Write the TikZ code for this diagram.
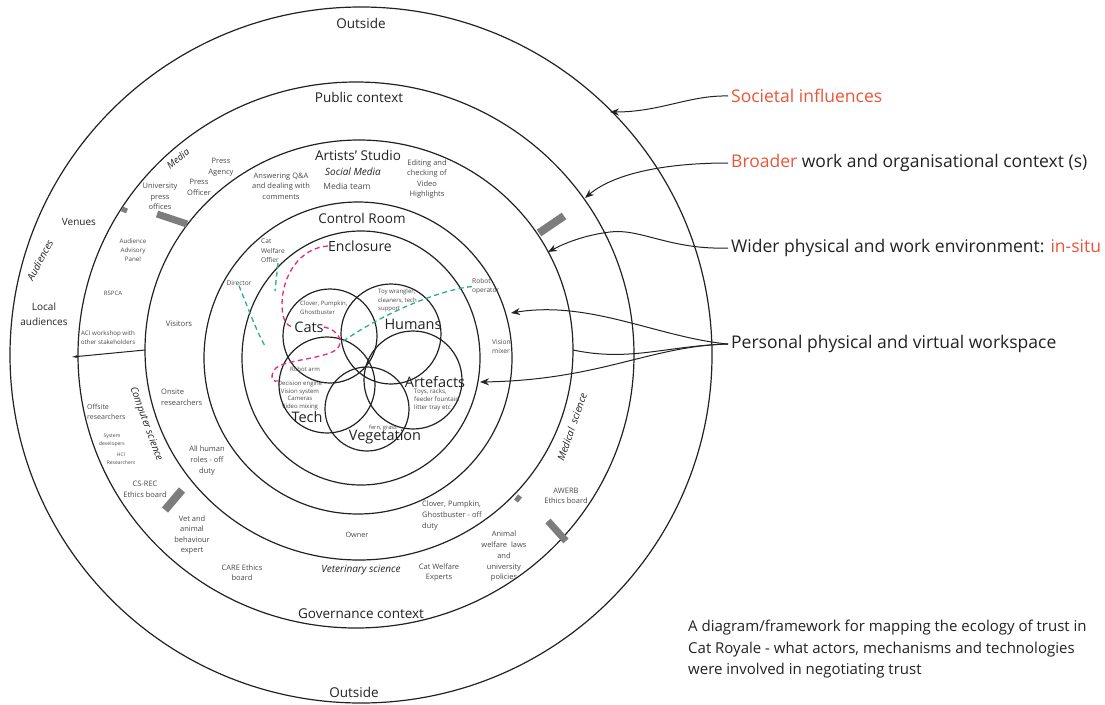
\documentclass[tikz,border=0pt]{standalone}
\usepackage{fontspec}
\setmainfont{Open Sans}
\usetikzlibrary{arrows.meta}
\definecolor{ink}{RGB}{34,34,34}
\definecolor{labelgray}{RGB}{72,72,72}
\definecolor{barGray}{RGB}{125,125,125}
\definecolor{accentred}{RGB}{235,85,55}
\definecolor{dashpink}{RGB}{230,40,130}
\definecolor{dashteal}{RGB}{40,175,145}

\begin{document}
\begin{tikzpicture}[x=1pt, y=1pt,
  ringline/.style={draw=ink, line width=1.2pt},
  venncircle/.style={draw=ink, line width=1.2pt},
  ringlbl/.style={font=\fontsize{13.5}{16}\selectfont, text=ink, inner sep=0pt},
  vennlbl/.style={font=\fontsize{14.5}{17}\selectfont, text=ink, inner sep=0pt},
  note/.style={font=\fontsize{7.5}{10.6}\selectfont, text=labelgray, align=center, inner sep=0pt},
  tinynote/.style={font=\fontsize{6.2}{8.8}\selectfont, text=labelgray, align=center, inner sep=0pt},
  micronote/.style={font=\fontsize{5}{7.6}\selectfont, text=labelgray, align=center, inner sep=0pt},
  fieldlbl/.style={font=\fontsize{10}{12}\selectfont\itshape, text=ink, inner sep=0pt},
  sidelbl/.style={font=\fontsize{17.5}{21}\selectfont, text=ink, anchor=west, inner sep=0pt},
  sidearrow/.style={-{Stealth[length=9pt,width=7pt]}, draw=ink, line width=1pt},
  graybar/.style={draw=barGray, line width=7pt},
  pinkdash/.style={draw=dashpink, line width=1.3pt, dash pattern=on 5pt off 3.5pt},
  tealdash/.style={draw=dashteal, line width=1.3pt, dash pattern=on 5pt off 3.5pt}]
  \useasboundingbox (0,0) rectangle (1105,-704);

  % Rings
  \draw[ringline] (361,-355) ellipse [x radius=351pt, y radius=348pt];
  \draw[ringline] (356,-355) ellipse [x radius=278pt, y radius=273pt];
  \draw[ringline] (359,-350) ellipse [x radius=214pt, y radius=210pt];
  \draw[ringline] (358,-358) ellipse [x radius=154pt, y radius=156pt];
  \draw[ringline] (361,-358) ellipse [x radius=119pt, y radius=127pt];

  % Venn circles
  \draw[venncircle] (330,-336) circle [radius=47pt];
  \draw[venncircle] (391,-334) circle [radius=50pt];
  \draw[venncircle] (413,-380) circle [radius=49pt];
  \draw[venncircle] (327,-385) circle [radius=48pt];
  \draw[venncircle] (367,-409) circle [radius=42pt];

  % Gray bars
  \draw[graybar] (157,-214) -- (187,-224);
  \draw[graybar, line width=5pt] (122,-209) -- (127,-211);
  \draw[graybar, line width=8pt] (539,-233) -- (564,-216);
  \draw[graybar, line width=8pt] (165,-510) -- (182,-490);
  \draw[graybar, line width=5pt] (516,-501) -- (520,-496);
  \draw[graybar] (548,-521) -- (566,-541);

  % Ring labels
  \node[ringlbl] (outtop) at (361,-23) {Outside};
  \node[ringlbl] (pubctx) at (359,-97) {Public context};
  \node[ringlbl] (studio) at (358,-155) {Artists' Studio};
  \node[ringlbl] (ctrlroom) at (362,-218) {Control Room};
  \node[vennlbl, font=\fontsize{14}{17}\selectfont] (enclosure) at (360,-246) {Enclosure};
  \node[ringlbl] (govctx) at (361,-614) {Governance context};
  \node[ringlbl] (outbot) at (354,-692) {Outside};

  % Venn labels
  \node[vennlbl] (cats) at (309,-327) {Cats};
  \node[vennlbl] (humans) at (413,-324) {Humans};
  \node[vennlbl] (artefacts) at (435,-382) {Artefacts};
  \node[vennlbl] (tech) at (307,-417) {Tech};
  \node[vennlbl] (vegetation) at (385,-437) {Vegetation};
  \node[tinynote, font=\fontsize{6}{9}\selectfont, align=left, anchor=west] (catnames) at (300,-307.5) {Clover, Pumpkin,\\Ghostbuster};
  \node[tinynote, font=\fontsize{6}{8.5}\selectfont, align=left, anchor=west] (humanroles) at (378,-300.5) {Toy wrangler,\\cleaners, tech\\support};
  \node[tinynote, font=\fontsize{6.2}{8}\selectfont, align=left, anchor=west] (artitems) at (414,-400) {Toys, racks,\\feeder fountain\\litter tray etc};
  \node[tinynote, font=\fontsize{6}{7.7}\selectfont] (techitems) at (300,-395.5) {Decision engine\\Vision system\\Cameras\\Video mixing};
  \node[tinynote, font=\fontsize{6}{8}\selectfont] (robotarm) at (305,-369) {Robot arm};
  \node[tinynote, font=\fontsize{5.7}{8}\selectfont] (fern) at (383,-428) {fern, grass};

  % Control room
  \node[tinynote, font=\fontsize{6.6}{9.6}\selectfont, align=left, anchor=west] (cwo) at (261,-251) {Cat\\Welfare\\Offier};
  \node[tinynote, font=\fontsize{6.6}{9}\selectfont] (director) at (239,-283) {Director};
  \node[tinynote, font=\fontsize{6.6}{9}\selectfont, align=left, anchor=west] (robotop) at (472,-286.5) {Robot\\operator};
  \node[tinynote, font=\fontsize{6.6}{9}\selectfont, align=left, anchor=west] (visionmix) at (492,-346.5) {Vision\\mixer};

  % Artists' studio
  \node[fieldlbl] (socmedia) at (353,-172) {Social Media};
  \node[note, font=\fontsize{8.5}{11}\selectfont] (mediateam) at (347,-186) {Media team};
  \node[note] (answering) at (281,-186) {Answering Q\&A\\and dealing with\\comments};
  \node[note] (editing) at (427,-179) {Editing and\\checking of\\Video\\Highlights};
  \node[note, font=\fontsize{7.7}{10}\selectfont] (visitors) at (179,-324) {Visitors};
  \node[note, align=left, anchor=west] (onsite) at (161,-397.5) {Onsite\\researchers};
  \node[note] (allhuman) at (207,-460.5) {All human\\roles - off\\duty};
  \node[note, font=\fontsize{7.3}{10}\selectfont] (owner) at (357,-535) {Owner};
  \node[note, align=left, anchor=west] (cloveroff) at (422,-515.5) {Clover, Pumpkin,\\Ghostbuster - off\\duty};

  % Public context
  \node[fieldlbl, font=\fontsize{9.5}{12}\selectfont\itshape, rotate=39] (media) at (178,-159) {Media};
  \node[note] (pressagency) at (221,-167) {Press\\Agency};
  \node[note] (pressofficer) at (199,-187.5) {Press\\Officer};
  \node[note] (unipress) at (160,-196.5) {University\\press\\offices};
  \node[tinynote] (aap) at (133,-250) {Audience\\Advisory\\Panel};
  \node[tinynote, font=\fontsize{6}{8}\selectfont] (rspca) at (113,-293) {RSPCA};
  \node[tinynote] (aci) at (108,-337.5) {ACI workshop with\\other stakeholders};
  \node[note, font=\fontsize{7}{10}\selectfont, align=left, anchor=west] (offsite) at (87,-412) {Offsite\\researchers};
  \node[micronote] (sysdev) at (112,-440.5) {System\\developers};
  \node[micronote] (hci) at (121,-459) {HCI\\Researchers};
  \node[fieldlbl, rotate=-70] (compsci) at (146,-424) {Computer science};
  \node[note] (csrec) at (145,-489.5) {CS-REC\\Ethics board};
  \node[note] (vetexpert) at (192,-535) {Vet and\\animal\\behaviour\\expert};
  \node[note] (care) at (242,-572.5) {CARE Ethics\\board};
  \node[fieldlbl] (vetsci) at (361,-570) {Veterinary science};
  \node[note] (cwexperts) at (439,-572.5) {Cat Welfare\\Experts};
  \node[note, font=\fontsize{7.5}{10.75}\selectfont] (animallaws) at (504,-556.5) {Animal\\welfare~ laws\\and\\university\\policies};
  \node[note] (awerb) at (566,-496) {AWERB\\Ethics board};
  \node[fieldlbl, rotate=71] (medsci) at (572,-427) {Medical~ science};

  % Outside
  \node[fieldlbl, rotate=62] (audiences) at (40,-260) {Audiences};
  \node[note, font=\fontsize{10}{14}\selectfont, text=ink] (venues) at (79,-222) {Venues};
  \node[note, font=\fontsize{10}{15}\selectfont, text=ink] (localaud) at (44,-314.5) {Local\\audiences};

  % Dashed links
  \draw[pinkdash] (enclosure.west) .. controls (300,-248) and (282,-275) .. (282,-305) .. controls (282,-320) and (287,-327) .. (cats.west);
  \draw[pinkdash] (cats.east) .. controls (340,-330) and (348,-346) .. (330,-353) .. controls (310,-360) and (284,-361) .. (276,-368) .. controls (270,-374) and (271,-383) .. (techitems.north west);
  \draw[tealdash] ([xshift=5pt]cwo.south) -- ++(-3,-28);
  \draw[tealdash] (director.south) .. controls (248,-308) and (256,-330) .. (265,-346);
  \draw[tealdash] (robotop.west) .. controls (440,-290) and (385,-312) .. (342,-342);

  % Side labels
  \node[sidelbl, text=accentred] (societal) at (731,-96) {Societal influences};
  \node[sidelbl] (broader) at (731,-163) {\textcolor{accentred}{Broader} work and organisational context (s)};
  \node[sidelbl] (wider) at (731,-248) {Wider physical and work environment: \textcolor{accentred}{in-situ}};
  \node[sidelbl] (personal) at (731,-344) {Personal physical and virtual workspace};
  \node[anchor=west, align=left, inner sep=0pt, text=ink, font=\fontsize{15}{21.5}\selectfont] (caption) at (688,-649.5) {A diagram/framework for mapping the ecology of trust in\\Cat Royale - what actors, mechanisms and technologies\\were involved in negotiating trust};

  % Arrow ends
  \coordinate (tipA) at (610,-112);
  \coordinate (tipB) at (585,-198);
  \coordinate (tipC) at (548,-252);
  \coordinate (tipD) at (511,-313);
  \coordinate (tipE) at (480,-382);
  \coordinate (studioEdge) at (573,-350);
  \coordinate (leftIn) at (145,-350);
  \coordinate (leftOut) at (72,-357);

  % Side arrows
  \draw[sidearrow] ([xshift=-3pt]societal.west) .. controls (690,-95) and (660,-112) .. (tipA);
  \draw[sidearrow] ([xshift=-3pt]broader.west) .. controls (660,-163) and (612,-175) .. (tipB);
  \draw[sidearrow] ([xshift=-3pt]wider.west) .. controls (670,-250) and (640,-228) .. (610,-232) .. controls (585,-235) and (565,-243) .. (tipC);
  \draw[sidearrow] ([xshift=-3pt]personal.west) .. controls (660,-338) and (590,-300) .. (tipD);
  \draw[sidearrow] ([xshift=-3pt]personal.west) .. controls (650,-346) and (600,-380) .. (tipE);
  \draw[draw=ink, line width=1pt] ([xshift=-3pt]personal.west) .. controls (665,-346) and (630,-362) .. (studioEdge);
  \draw[draw=ink, line width=1pt, -{Stealth[length=6pt,width=3pt]}] (leftIn) -- (leftOut);
\end{tikzpicture}
\end{document}
